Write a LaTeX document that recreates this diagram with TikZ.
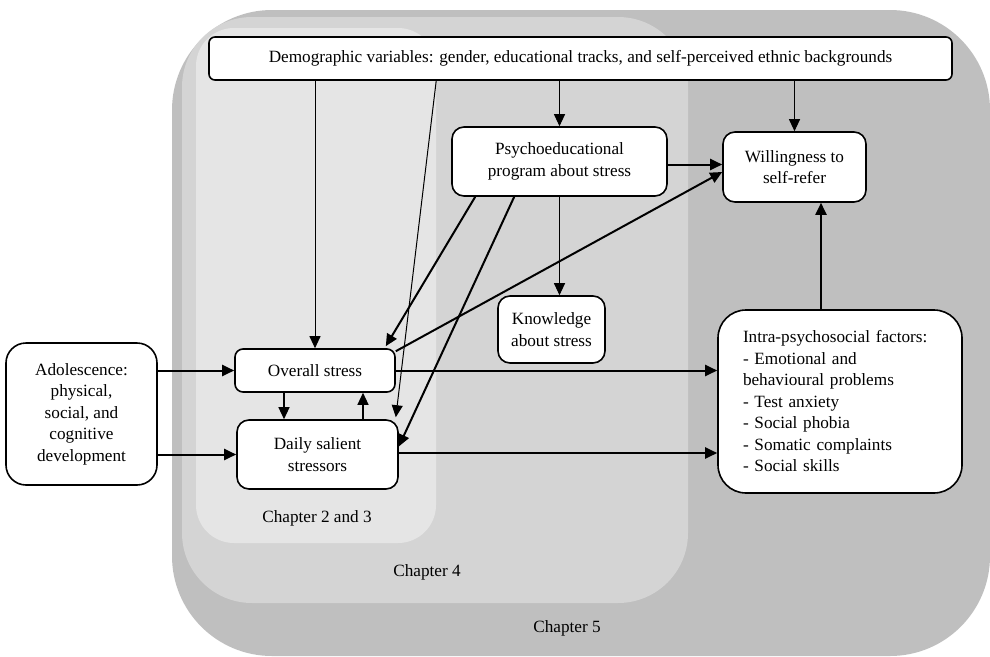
\documentclass[tikz,border=0pt]{standalone}
\usepackage{fontspec}
\setmainfont{Liberation Serif}
\usetikzlibrary{arrows.meta,calc}
\definecolor{chfive}{gray}{0.75}
\definecolor{chfour}{gray}{0.83}
\definecolor{chtwo}{gray}{0.90}
\tikzset{
  box/.style={draw=black, line width=1.6pt, rounded corners=8pt, fill=white, align=center, inner sep=0pt,
    font=\fontsize{17.2}{21.5}\selectfont},
  thinarr/.style={line width=1pt, -{Triangle[length=12pt,width=11pt]}},
  thickarr/.style={line width=2pt, -{Triangle[length=12pt,width=11pt]}},
  chlabel/.style={font=\fontsize{17.2}{20}\selectfont, inner sep=0pt},
}
\begin{document}
\begin{tikzpicture}[x=1pt,y=-1pt]
\useasboundingbox (0,0) rectangle (990,656);
\fill[white] (0,0) rectangle (990,656);
% chapter regions
\fill[chfive, rounded corners=100pt] (172,10) rectangle (990,656);
\fill[chfour, rounded corners=70pt] (182,17) rectangle (688,603);
\fill[chtwo, rounded corners=38pt] (196,28) rectangle (436,543);
\node[chlabel] (l23) at (317,518) {Chapter 2 and 3};
\node[chlabel] (l4) at (427,572) {Chapter 4};
\node[chlabel] (l5) at (567,628) {Chapter 5};
% nodes
\node[box, minimum width=743pt, minimum height=43pt, rounded corners=6pt] (demo) at (580.5,58.5)
  {Demographic variables: gender, educational tracks, and self-perceived ethnic backgrounds};
\node[box, minimum width=215pt, minimum height=69pt, rounded corners=12pt] (psy) at (559.5,161.5)
  {Psychoeducational\\program about stress};
\node[box, minimum width=143pt, minimum height=70pt, rounded corners=12pt] (will) at (794.5,167)
  {Willingness to\\self-refer};
\node[box, minimum width=107pt, minimum height=67pt, rounded corners=12pt] (know) at (551.5,329.5)
  {Knowledge\\about stress};
\node[box, minimum width=160pt, minimum height=43pt] (overall) at (315,370.5)
  {Overall stress};
\node[box, minimum width=161pt, minimum height=69pt, rounded corners=12pt] (daily) at (317.5,454.5)
  {Daily salient\\stressors};
\node[box, minimum width=151pt, minimum height=142pt, rounded corners=20pt] (adol) at (81.5,414)
  {Adolescence:\\physical,\\social, and\\cognitive\\development};
\node[box, minimum width=244pt, minimum height=183pt, rounded corners=28pt, align=left,
  text width=194pt, inner xsep=25pt] (intra) at (840,401.5)
  {Intra-psychosocial factors:\\- Emotional and\\behavioural problems\\- Test anxiety\\- Social phobia\\- Somatic complaints\\- Social skills};
% connectors
\draw[thinarr] (demo.south -| overall.north) -- (overall.north);
\draw[thinarr] ([xshift=228pt]demo.south west) -- ([xshift=-3pt,yshift=2pt]daily.north east);
\draw[thinarr] (demo.south -| psy.north) -- (psy.north);
\draw[thinarr] (demo.south -| will.north) -- (will.north);
\draw[thinarr] (psy.south) -- (psy.south |- know.north);
\draw[thickarr] ([yshift=-3pt]psy.east) -- ([yshift=-3pt]psy.east -| will.west);
\draw[thickarr] ([yshift=-3pt]overall.north east) -- ([yshift=-5pt]will.west);
\draw[thickarr] ([xshift=24pt]psy.south west) -- ([xshift=-10pt,yshift=2pt]overall.north east);
\draw[thickarr] ([xshift=63pt]psy.south west) -- ([yshift=8pt]daily.east);
\draw[thickarr] ([xshift=-19pt]intra.north) -- ([xshift=-19pt]intra.north |- will.south);
\draw[thickarr] (overall.east) -- (overall.east -| intra.west);
\draw[thickarr] ([yshift=1.5pt]daily.east) -- ([yshift=1.5pt]daily.east -| intra.west);
\draw[thickarr] (adol.east |- overall.west) -- (overall.west);
\draw[thickarr] (adol.east |- daily.west) -- (daily.west);
\draw[thinarr, line width=1.3pt] ([xshift=-31pt]overall.south) -- ([xshift=-31pt]overall.south |- daily.north);
\draw[thinarr, line width=1.3pt] ([xshift=45.5pt]daily.north) -- ([xshift=45.5pt]daily.north |- overall.south);
\end{tikzpicture}
\end{document}
